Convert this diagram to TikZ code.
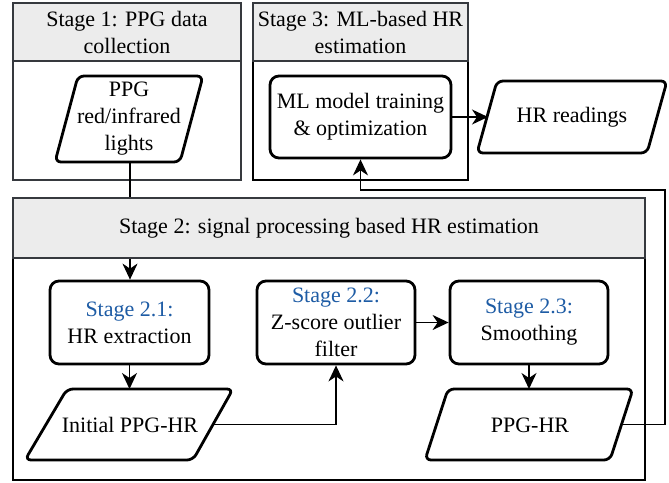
\documentclass[tikz,border=0pt]{standalone}
\usepackage{fontspec}
\setmainfont{Liberation Serif}
\usetikzlibrary{arrows.meta}
\definecolor{hdrgray}{RGB}{54,57,62}
\definecolor{hdrfill}{RGB}{236,236,236}
\definecolor{stblue}{RGB}{30,92,165}
\tikzset{
  hdr/.style={draw=hdrgray,fill=hdrfill,line width=2.6pt},
  bodyg/.style={draw=hdrgray,line width=2.6pt},
  bodyk/.style={draw=black,line width=2.6pt},
  proc/.style={draw=black,fill=white,line width=2.8pt,rounded corners=9pt,align=center,inner sep=0pt},
  iobox/.style={draw=black,fill=white,line width=2.8pt,rounded corners=6pt},
  txt/.style={align=center,inner sep=0pt,font=\fontsize{22}{27}\selectfont},
  arr/.style={line width=1.5pt,>={Stealth[length=16pt,width=15pt,inset=5pt]},->},
}
\begin{document}
\begin{tikzpicture}[x=1pt,y=-1pt]
\useasboundingbox (0,0) rectangle (669,482);
% Stage 1 container
\draw[bodyg] (13,61) rectangle (241,180);
\node[hdr,minimum width=228pt,minimum height=58pt,inner sep=0pt] (s1h) at (127,32) {};
\node[txt] (s1t) at (127,32) {Stage 1: PPG data\\collection};
% Stage 3 container
\draw[bodyk] (253,61) rectangle (468,180);
\node[hdr,minimum width=215pt,minimum height=58pt,inner sep=0pt] (s3h) at (360.5,32) {};
\node[txt] (s3t) at (360.5,32) {Stage 3: ML-based HR\\estimation};
% PPG input
\draw[iobox] (78,76) -- (203,76) -- (180,162) -- (55,162) -- cycle;
\node[txt] (ppg) at (129,119) {PPG\\red/infrared\\lights};
\coordinate (ppgB) at (130,162);
% ML box
\node[proc,txt,minimum width=181pt,minimum height=82pt] (ml) at (360.5,117) {ML model training\\\& optimization};
% HR readings
\draw[iobox] (497,81) -- (667,81) -- (647,153) -- (477,153) -- cycle;
\node[txt] (hrr) at (572,117) {HR readings};
\coordinate (hrrL) at (488,117);
\draw[arr] (ml.east) -- (hrrL);
% Stage 2 body
\draw[bodyk] (13,258) rectangle (645,480);
% Stage 2.1 box
\node[proc,txt,minimum width=159pt,minimum height=83pt] (ext) at (129.5,322.5) {\textcolor{stblue}{Stage 2.1:}\\HR extraction};
% connector PPG -> extraction (passes behind stage 2 header)
\draw[arr] (ppgB) -- (ppgB |- ext.north);
% Stage 2 header
\node[hdr,minimum width=632pt,minimum height=60pt,inner sep=0pt] (s2h) at (329,228) {};
\node[txt] (s2t) at (329,228) {Stage 2: signal processing based HR estimation};
% Stage 2.2 and 2.3
\node[proc,txt,minimum width=158pt,minimum height=83pt] (zs) at (336,322.5) {\textcolor{stblue}{Stage 2.2:}\\Z-score outlier\\filter};
\node[proc,txt,minimum width=158pt,minimum height=83pt] (sm) at (529,322.5) {\textcolor{stblue}{Stage 2.3:}\\Smoothing};
% Initial PPG-HR
\draw[iobox] (67,389) -- (233,389) -- (193,460) -- (25,460) -- cycle;
\node[txt] (init) at (130,425) {Initial PPG-HR};
\coordinate (initR) at (213,424.5);
% PPG-HR
\draw[iobox] (448,389) -- (633,389) -- (610,460) -- (425,460) -- cycle;
\node[txt] (phr) at (530,425) {PPG-HR};
\coordinate (phrR) at (621.5,424.5);
\coordinate (phrT) at (529,389);
\coordinate (initT) at (129.5,389);
% connectors
\draw[arr] (ext.south) -- (initT);
\draw[arr] (initR) -| (zs.south);
\draw[arr] (zs.east) -- (sm.west);
\draw[arr] (sm.south) -- (phrT);
\coordinate (fbc) at (665,190);
\draw[arr] (phrR) -| (fbc) -| (ml.south);
\end{tikzpicture}
\end{document}
